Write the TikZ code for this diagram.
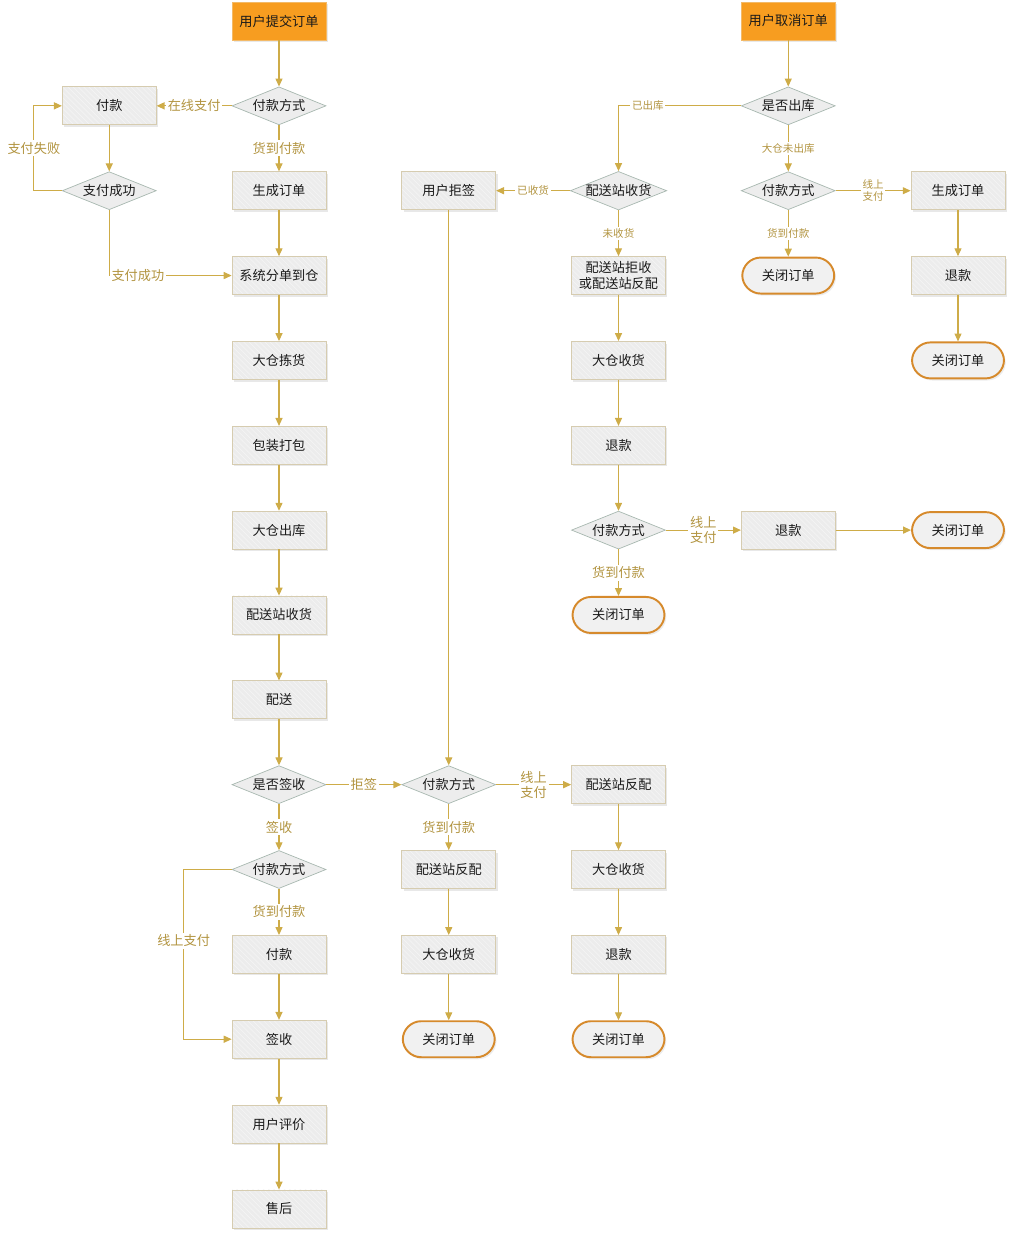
\documentclass[tikz,border=0pt]{standalone}
\usepackage{fontspec}
\setmainfont{Noto Sans CJK SC}
\usepackage{tikz}
\usetikzlibrary{positioning, arrows.meta, shapes.geometric, shadows, patterns}

\definecolor{flowgold}{RGB}{206,172,72}
\definecolor{lblgold}{RGB}{178,148,64}
\definecolor{boxfill}{RGB}{236,236,236}
\definecolor{boxline}{RGB}{214,204,176}
\definecolor{stripe}{RGB}{244,244,244}
\definecolor{diafill}{RGB}{237,237,237}
\definecolor{dialine}{RGB}{168,184,176}
\definecolor{termfill}{RGB}{241,241,241}
\definecolor{termline}{RGB}{214,138,44}
\definecolor{startfill}{RGB}{247,157,32}
\definecolor{startline}{RGB}{243,186,104}
\definecolor{inktext}{RGB}{26,26,26}

\begin{document}
\begin{tikzpicture}[
  node distance=1.697cm and 3.395cm, on grid,
  basebox/.style={rectangle, text=inktext, align=center,
    minimum width=1.88cm, minimum height=0.76cm, inner sep=0pt,
    font=\fontsize{7.5}{9}\selectfont,
    drop shadow={shadow xshift=1pt, shadow yshift=-1.2pt, opacity=0.18}},
  box/.style={basebox, draw=boxline, fill=boxfill,
    postaction={pattern=north west lines, pattern color=stripe},
    postaction={draw=boxline}},
  startbox/.style={basebox, draw=startline, fill=startfill},
  decision/.style={diamond, aspect=2.5, draw=dialine, fill=diafill, text=inktext,
    minimum width=1.88cm, minimum height=0.76cm, inner sep=0pt,
    font=\fontsize{7.5}{9}\selectfont},
  terminal/.style={rectangle, rounded corners=0.37cm, draw=termline, line width=1.1pt,
    fill=termfill, text=inktext, minimum width=1.84cm, minimum height=0.72cm,
    font=\fontsize{7.5}{9}\selectfont,
    drop shadow={shadow xshift=1pt, shadow yshift=-1.2pt, opacity=0.15}},
  arr/.style={-{Triangle[length=4.5pt, width=4pt]}, draw=flowgold, line width=0.6pt},
  lbl/.style={draw=none, fill=white, text=lblgold, inner sep=1pt, midway,
    align=center, font=\fontsize{7.5}{8.5}\selectfont},
  small/.style={font=\fontsize{6}{7}\selectfont},
]
  \useasboundingbox (0,0) rectangle (20.22,-24.74);

  % order placed
  \node[startbox] (submit) at (5.58,-0.42) {用户提交订单};
  \node[decision] (payA)    [below=of submit]  {付款方式};
  \node[box]      (payB)    [left=of payA]     {付款};
  \node[decision] (paidok)  [below=of payB]    {支付成功};
  \node[box]      (genA)    [below=of payA]    {生成订单};
  \node[box]      (split)   [below=of genA]    {系统分单到仓};
  \node[box]      (pick)    [below=of split]   {大仓拣货};
  \node[box]      (pack)    [below=of pick]    {包装打包};
  \node[box]      (outA)    [below=of pack]    {大仓出库};
  \node[box]      (stRecvA) [below=of outA]    {配送站收货};
  \node[box]      (deliver) [below=of stRecvA] {配送};
  \node[decision] (signq)   [below=of deliver] {是否签收};
  \node[decision] (payC)    [below=of signq]   {付款方式};
  \node[box]      (payD)    [below=of payC]    {付款};
  \node[box]      (sign)    [below=of payD]    {签收};
  \node[box]      (review)  [below=of sign]    {用户评价};
  \node[box]      (after)   [below=of review]  {售后};

  % refused on delivery
  \node[box]      (reject)  [right=of genA]    {用户拒签};
  \node[decision] (payE)    [right=of signq]   {付款方式};
  \node[box]      (backA)   [below=of payE]    {配送站反配};
  \node[box]      (whA)     [below=of backA]   {大仓收货};
  \node[terminal] (closeA)  [below=of whA]     {关闭订单};
  \node[box]      (backB)   [right=of payE]    {配送站反配};
  \node[box]      (whB)     [below=of backB]   {大仓收货};
  \node[box]      (refB)    [below=of whB]     {退款};
  \node[terminal] (closeB)  [below=of refB]    {关闭订单};

  % order cancelled
  \node[startbox] (cancel)  [right=10.185cm of submit] {用户取消订单};
  \node[decision] (outq)    [below=of cancel]  {是否出库};
  \node[decision] (stRecvB) [below left=of outq] {配送站收货};
  \node[decision] (payF)    [below=of outq]    {付款方式};
  \node[box]      (genB)    [right=of payF]    {生成订单};
  \node[box]      (refC)    [below=of genB]    {退款};
  \node[terminal] (closeC)  [below=of refC]    {关闭订单};
  \node[terminal] (closeD)  [below=of payF]    {关闭订单};
  \node[box]      (rejback) [below=of stRecvB] {配送站拒收\\或配送站反配};
  \node[box]      (whC)     [below=of rejback] {大仓收货};
  \node[box]      (refD)    [below=of whC]     {退款};
  \node[decision] (payG)    [below=of refD]    {付款方式};
  \node[terminal] (closeE)  [below=of payG]    {关闭订单};
  \node[box]      (refE)    [right=of payG]    {退款};
  \node[terminal] (closeF)  [right=of refE]    {关闭订单};

  \draw[arr] (submit) -- (payA);
  \draw[arr] (payA) -- node[lbl] {在线支付} (payB);
  \draw[arr] (payA) -- node[lbl] {货到付款} (genA);
  \draw[arr] (payB) -- (paidok);
  \draw[arr] (paidok.west) -- ++(-0.56,0) |- node[lbl,pos=0.25] {支付失败} (payB.west);
  \draw[arr] (paidok.south) |- node[lbl,pos=0.5,anchor=west] {支付成功} (split.west);
  \draw[arr] (genA) -- (split);
  \draw[arr] (split) -- (pick);
  \draw[arr] (pick) -- (pack);
  \draw[arr] (pack) -- (outA);
  \draw[arr] (outA) -- (stRecvA);
  \draw[arr] (stRecvA) -- (deliver);
  \draw[arr] (deliver) -- (signq);
  \draw[arr] (signq) -- node[lbl] {拒签} (payE);
  \draw[arr] (signq) -- node[lbl] {签收} (payC);
  \draw[arr] (payC) -- node[lbl] {货到付款} (payD);
  \draw[arr] (payC.west) -- ++(-0.96,0) |- node[lbl,pos=0.21] {线上支付} (sign.west);
  \draw[arr] (payD) -- (sign);
  \draw[arr] (sign) -- (review);
  \draw[arr] (review) -- (after);

  \draw[arr] (reject) -- (payE);
  \draw[arr] (payE) -- node[lbl] {线上\\支付} (backB);
  \draw[arr] (payE) -- node[lbl] {货到付款} (backA);
  \draw[arr] (backA) -- (whA);
  \draw[arr] (whA) -- (closeA);
  \draw[arr] (backB) -- (whB);
  \draw[arr] (whB) -- (refB);
  \draw[arr] (refB) -- (closeB);

  \draw[arr] (cancel) -- (outq);
  \draw[arr] (outq.west) -| node[lbl,small,pos=0.38] {已出库} (stRecvB.north);
  \draw[arr] (outq) -- node[lbl,small] {大仓未出库} (payF);
  \draw[arr] (payF) -- node[lbl,small] {线上\\支付} (genB);
  \draw[arr] (payF) -- node[lbl,small] {货到付款} (closeD);
  \draw[arr] (genB) -- (refC);
  \draw[arr] (refC) -- (closeC);
  \draw[arr] (stRecvB) -- node[lbl,small] {已收货} (reject);
  \draw[arr] (stRecvB) -- node[lbl,small] {未收货} (rejback);
  \draw[arr] (rejback) -- (whC);
  \draw[arr] (whC) -- (refD);
  \draw[arr] (refD) -- (payG);
  \draw[arr] (payG) -- node[lbl] {线上\\支付} (refE);
  \draw[arr] (refE) -- (closeF);
  \draw[arr] (payG) -- node[lbl] {货到付款} (closeE);
\end{tikzpicture}
\end{document}
